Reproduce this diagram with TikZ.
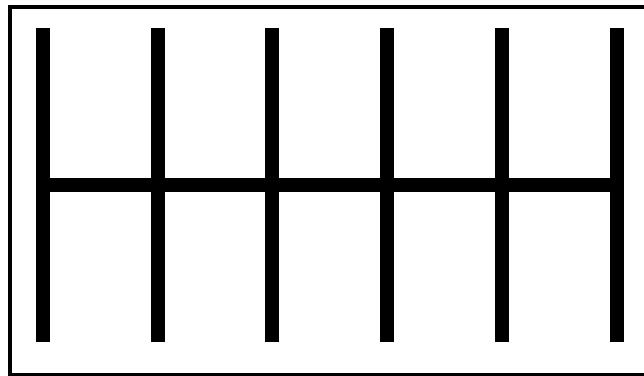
\documentclass[tikz,border=0pt]{standalone}
\usepackage{tikz}

\begin{document}
\begin{tikzpicture}[
  x=1pt, y=-1pt,
  frame/.style={draw=black, line width=4pt},
  rung/.style={draw=black, line width=14pt}
]
\useasboundingbox (0,0) rectangle (644,375);
\begin{scope}
\clip (0,0) rectangle (644,375);
\draw[frame] (10,6.5) rectangle (660,374.5);
\end{scope}
% six vertical bars
\foreach \i in {0,...,5} {
  \coordinate (top\i) at ({43+114.7*\i},28);
  \coordinate (bot\i) at ({43+114.7*\i},342);
  \draw[rung] (top\i) -- (bot\i);
}
% cross bar
\coordinate (left) at (43,185);
\coordinate (right) at (616.5,185);
\draw[rung] (left) -- (right);
\end{tikzpicture}
\end{document}
